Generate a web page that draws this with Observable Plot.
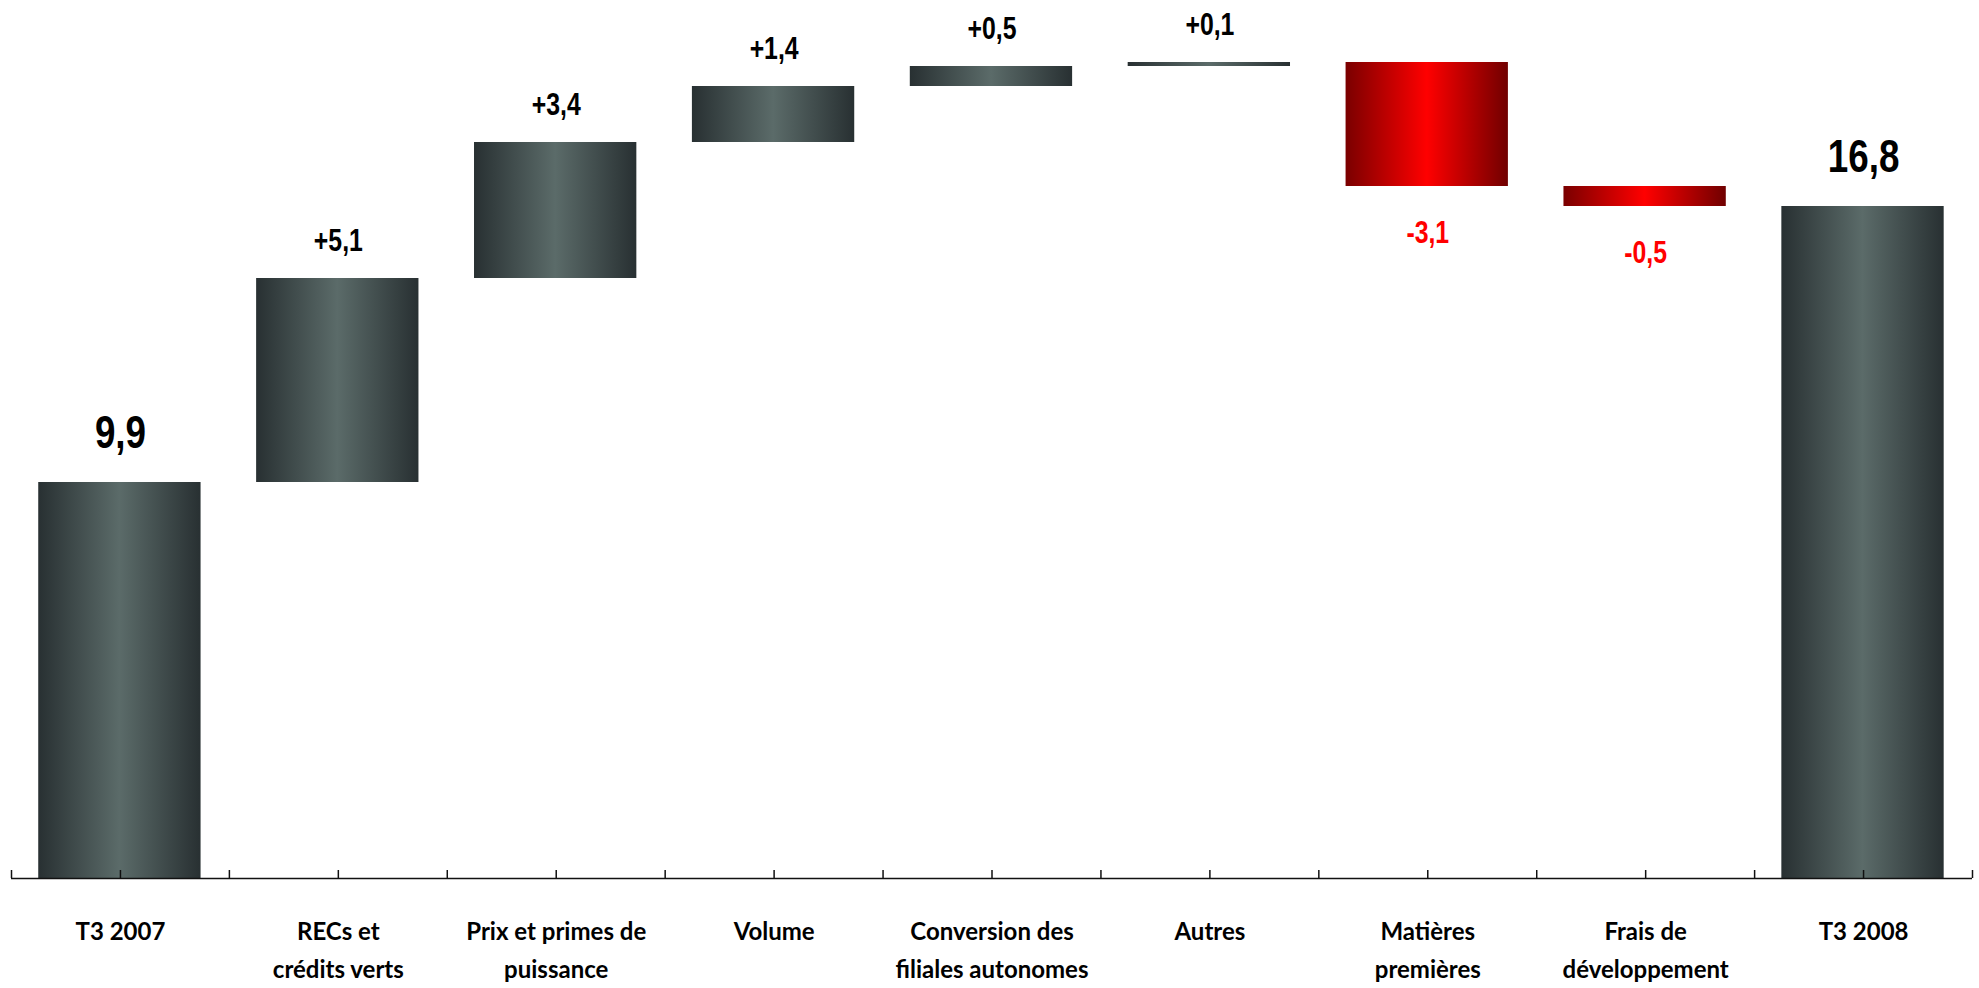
<!DOCTYPE html>
<html><head><meta charset="utf-8">
<script src="https://cdn.jsdelivr.net/npm/d3@7"></script>
<script src="https://cdn.jsdelivr.net/npm/@observablehq/plot@0.6"></script>
<style>body{margin:0;background:#fff}</style>
</head><body><div id="chart"></div>
<script>
// ---- data ----
const categories = ["T3 2007", "RECs et\ncrédits verts", "Prix et primes de\npuissance", "Volume",
  "Conversion des\nfiliales autonomes", "Autres", "Matières\npremières", "Frais de\ndéveloppement", "T3 2008"];
const values = [9.9, 5.1, 3.4, 1.4, 0.5, 0.1, -3.1, -0.5, 16.8];
const kinds = ["total", "delta", "delta", "delta", "delta", "delta", "delta", "delta", "total"];
const valueLabels = ["9,9", "+5,1", "+3,4", "+1,4", "+0,5", "+0,1", "-3,1", "-0,5", "16,8"];

// ---- build waterfall rows ----
let run = 0;
const rows = categories.map((c, i) => {
  let y1, y2;
  if (kinds[i] === "total") { y1 = 0; y2 = values[i]; run = values[i]; }
  else { y1 = run; y2 = run + values[i]; run = y2; }
  return {i, cat: c, v: values[i], kind: kinds[i], label: valueLabels[i],
          lo: Math.min(y1, y2), hi: Math.max(y1, y2)};
});
const idx = categories.map((c, i) => i);

const inset = 0.125, barW = 0.745;
const labelFont = "'Liberation Sans', Arial, sans-serif";
const catFont = "Lato, 'Open Sans', sans-serif";

const svg = Plot.plot({
  width: 1979, height: 988,
  marginLeft: 11, marginRight: 7, marginTop: 18, marginBottom: 110,
  x: {domain: [0, categories.length], axis: null},
  y: {domain: [0, 21.5], axis: null},
  marks: [
    Plot.rectY(rows.filter(d => d.v >= 0), {
      x1: d => d.i + inset, x2: d => d.i + inset + barW, y1: "lo", y2: "hi",
      fill: "url(#gradGray)"
    }),
    Plot.rectY(rows.filter(d => d.v < 0), {
      x1: d => d.i + inset, x2: d => d.i + inset + barW, y1: "lo", y2: "hi",
      fill: "url(#gradRed)"
    }),
    Plot.ruleY([0], {x1: 0, x2: categories.length, stroke: "#111", strokeWidth: 1.5}),
    Plot.ruleX([...idx, categories.length], {x: d => d, y1: 0, y2: 0.2, stroke: "#111", strokeWidth: 1.5}),
    Plot.ruleX(idx, {x: d => d + 0.5, y1: 0, y2: 0.2, stroke: "#111", strokeWidth: 1.5}),
    // category labels
    Plot.text(rows, {x: d => d.i + 0.5, y: 0, text: "cat", lineAnchor: "top", dy: 34,
      fontSize: 24, fontWeight: "bold", fontFamily: catFont, lineHeight: 1.6, fill: "#000"}),
    // totals
    Plot.text(rows.filter(d => d.kind === "total"), {x: d => d.i + 0.5, y: "hi", text: "label",
      lineAnchor: "bottom", dy: -35, fontSize: 46, fontWeight: "bold", fontFamily: labelFont, fill: "#000",
      ariaDescription: "narrow"}),
    // positive deltas
    Plot.text(rows.filter(d => d.kind === "delta" && d.v >= 0), {x: d => d.i + 0.5, y: "hi", text: "label",
      lineAnchor: "bottom", dy: -28, fontSize: 31, fontWeight: "bold", fontFamily: labelFont, fill: "#000",
      ariaDescription: "narrow"}),
    // negative deltas
    Plot.text(rows.filter(d => d.kind === "delta" && d.v < 0), {x: d => d.i + 0.5, y: "lo", text: "label",
      lineAnchor: "bottom", dy: 56, fontSize: 31, fontWeight: "bold", fontFamily: labelFont, fill: "#ff0000",
      ariaDescription: "narrow"})
  ]
});

// condense value labels (Arial Narrow look)
d3.select(svg).selectAll("g[aria-description='narrow'] text").each(function() {
  const t = this.getAttribute("transform") || "";
  this.setAttribute("transform", t + " scale(0.8,1)");
});

const defs = d3.select(svg).insert("defs", ":first-child");
const g1 = defs.append("linearGradient").attr("id", "gradGray").attr("x1", "0").attr("x2", "1").attr("y1", "0").attr("y2", "0");
[["0%", "#283032"], ["50%", "#5b6b69"], ["100%", "#283032"]].forEach(([o, c]) => g1.append("stop").attr("offset", o).attr("stop-color", c));
const g2 = defs.append("linearGradient").attr("id", "gradRed").attr("x1", "0").attr("x2", "1").attr("y1", "0").attr("y2", "0");
[["0%", "#7a0000"], ["50%", "#ff0000"], ["100%", "#700000"]].forEach(([o, c]) => g2.append("stop").attr("offset", o).attr("stop-color", c));

document.getElementById("chart").appendChild(svg);
</script>
</body></html>
